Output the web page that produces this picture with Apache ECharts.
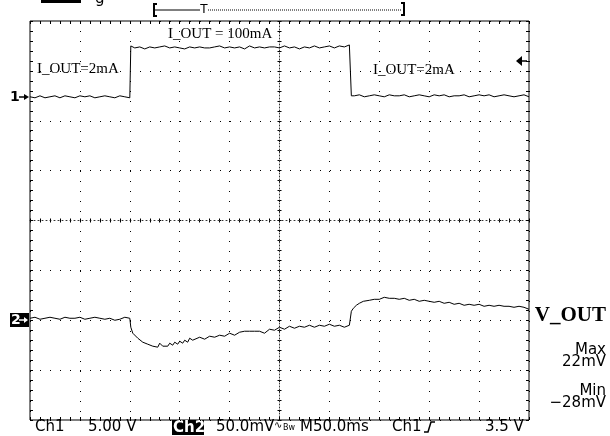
<!DOCTYPE html>
<html>
<head>
<meta charset="utf-8">
<script src="https://cdn.jsdelivr.net/npm/echarts@6/dist/echarts.min.js"></script>
<style>
html, body { margin: 0; padding: 0; background: #fff; }
#scope { width: 610px; height: 436px; }
</style>
</head>
<body>
<div id="scope"></div>
<script>
// time in ms, relative to the centre of the screen (50 ms/div, 10 div)
var ch1Time = [-250,-245,-240,-235,-230,-225,-220,-215,-210,-205,-200,-195,-190,-185,-180,-175,-170,-165,-160,-155,-150,
	-149,
	-145,-140,-135,-130,-125,-120,-115,-110,-105,-100,-95,-90,-85,-80,-75,-70,-65,-60,-55,-50,-45,-40,-35,-30,-25,-20,-15,-10,-5,0,5,10,15,20,25,30,35,40,45,50,55,60,65,70,
	71,72,
	75,80,85,90,95,100,105,110,115,120,125,130,135,140,145,150,155,160,165,170,175,180,185,190,195,200,205,210,215,220,225,230,235,240,245,250];
// Ch1 (5.00 V/div)
var ch1Volts = [0.0,-0.1,0.1,-0.1,0.0,0.1,-0.1,0.1,0.0,-0.1,0.1,0.0,0.1,-0.1,0.0,0.1,0.0,-0.1,0.1,0.0,-0.1,
	5.1,
	4.9,5.0,4.8,5.0,4.9,5.0,5.1,4.9,5.0,4.9,4.8,5.0,4.9,5.0,4.9,4.9,5.0,5.1,4.9,5.0,4.9,5.0,4.8,5.1,4.9,5.0,4.9,5.0,5.0,4.9,5.1,4.9,5.0,4.8,5.0,4.9,5.1,4.9,5.0,5.1,4.9,5.1,5.0,5.2,
	5.0,0.1,
	0.1,0.2,0.0,0.1,0.2,0.1,0.0,0.2,0.1,0.1,0.2,0.0,0.1,0.2,0.1,0.0,0.2,0.1,0.2,0.0,0.1,0.1,0.2,0.0,0.1,0.2,0.1,0.2,0.0,0.1,0.2,0.1,0.0,0.1,0.2,0.0];

var ch2Time = [-250,-245,-240,-235,-230,-225,-220,-215,-210,-205,-200,-195,-190,-185,-180,-175,-170,-165,-160,-155,-150,
	-149,-147,-145,-142,-140,-137,-135,-132,-130,-127,-125,-122,-120,-117,-115,-112,-110,-107,-105,-102,-100,-97,-95,-92,-90,-87,-85,
	-80,-75,-70,-65,-60,-55,-50,-45,-40,-35,-30,-25,-20,-15,-10,-5,0,5,10,15,20,25,30,35,40,45,50,55,60,65,70,
	71,72,74,77,80,84,
	90,95,100,105,110,115,120,125,130,135,140,145,150,155,160,165,170,175,180,185,190,195,200,205,210,215,220,225,230,235,240,245,250];
// Ch2 V_OUT (50.0 mV/div)
var ch2mV = [1,2,0,1,2,1,0,2,1,1,2,0,1,2,1,0,1,-1,0,2,1,
	-8,-14,-16,-19,-21,-23,-21,-25,-24,-27,-25,-28,-24,-27,-25,-27,-24,-26,-23,-25,-22,-24,-21,-23,-19,-21,-20,
	-18,-20,-17,-18,-16,-17,-14,-16,-13,-12,-12,-12,-12,-14,-10,-11,-8,-10,-7,-9,-7,-8,-6,-8,-6,-7,-5,-7,-6,-8,-6,
	-4,8,11,14,16,18,
	19,20,20,22,21,21,20,21,19,20,18,19,18,17,18,16,17,15,16,14,15,14,15,13,14,13,14,13,13,12,13,12,10];

var ch1VoltsPerDiv = 5, ch2mVPerDiv = 50;
var ch1Ground = 2.48, ch2Ground = -1.98; // ground markers, in divisions from centre

function trace(times, values, perDiv, ground) {
	var out = [];
	for (var i = 0; i < times.length && i < values.length; i++) {
		out.push([times[i], ground + values[i] / perDiv]);
	}
	return out;
}

var myChart = echarts.init(document.getElementById('scope'));

var black = '#000';
function xAx(pos, center, withSplit) {
	return {
		type: 'value', min: -250, max: 250, interval: 50, position: pos,
		axisLine: { show: center && pos === 'bottom', onZero: center, onZeroAxisIndex: 0,
			lineStyle: { color: '#333', width: 1, type: [1, 3] } },
		axisTick: { show: true, inside: true, length: center ? 2 : 3, lineStyle: { color: black } },
		minorTick: { show: true, splitNumber: 5, length: center ? 2 : 3, lineStyle: { color: black } },
		axisLabel: { show: false },
		splitLine: { show: withSplit, lineStyle: { color: black, width: 1, type: [1, 9] } }
	};
}
function yAx(pos, center, withSplit) {
	return {
		type: 'value', min: -4, max: 4, interval: 1, position: pos,
		axisLine: { show: center && pos === 'left', onZero: center, onZeroAxisIndex: 0,
			lineStyle: { color: '#333', width: 1, type: [1, 2] } },
		axisTick: { show: true, inside: true, length: center ? 2 : 3, lineStyle: { color: black } },
		minorTick: { show: true, splitNumber: 5, length: center ? 2 : 3, lineStyle: { color: black } },
		axisLabel: { show: false },
		splitLine: { show: withSplit, lineStyle: { color: black, width: 1, type: [1, 9] } }
	};
}

var serif = '15px "Liberation Serif"';
var sans = '15px "DejaVu Sans"';

option = {
	animation: false,
	backgroundColor: '#fff',
	grid: { left: 30, top: 21, width: 499, height: 399, show: true, borderColor: black, borderWidth: 1, backgroundColor: '#fff' },
	xAxis: [xAx('bottom', false, true), xAx('top', false, false), xAx('bottom', true, false), xAx('top', true, false)],
	yAxis: [yAx('left', false, true), yAx('right', false, false), yAx('left', true, false), yAx('right', true, false)],
	series: [{
		name: 'Ch1', type: 'line', xAxisIndex: 0, yAxisIndex: 0,
		data: trace(ch1Time, ch1Volts, ch1VoltsPerDiv, ch1Ground),
		symbol: 'none', lineStyle: { color: black, width: 1 }, silent: true
	}, {
		name: 'Ch2', type: 'line', xAxisIndex: 0, yAxisIndex: 0,
		data: trace(ch2Time, ch2mV, ch2mVPerDiv, ch2Ground),
		symbol: 'none', lineStyle: { color: black, width: 1 }, silent: true
	}],
	graphic: [
		// header remnants
		{ type: 'rect', shape: { x: 41, y: 0, width: 40, height: 3 }, style: { fill: black } },
		{ type: 'text', x: 95, y: -8, style: { text: 'g', font: sans, fill: black } },
		// record bracket with trigger position
		{ type: 'polyline', shape: { points: [[157, 4], [154, 4], [154, 16], [157, 16]] }, style: { stroke: black, lineWidth: 2, fill: null } },
		{ type: 'line', shape: { x1: 155, y1: 10, x2: 200, y2: 10 }, style: { stroke: black, lineWidth: 1 } },
		{ type: 'text', x: 204, y: 4, style: { text: 'T', font: '12px "DejaVu Sans"', fill: black, align: 'center' } },
		{ type: 'line', shape: { x1: 208, y1: 10, x2: 401, y2: 10 }, style: { stroke: black, lineWidth: 1, lineDash: [1, 1] } },
		{ type: 'polyline', shape: { points: [[401, 3], [404, 3], [404, 15], [401, 15]] }, style: { stroke: black, lineWidth: 2, fill: null } },
		// channel ground markers
		{ type: 'text', x: 10, y: 97, style: { text: '1', font: 'bold 14px "DejaVu Sans"', fill: black, verticalAlign: 'middle' } },
		{ type: 'line', shape: { x1: 19, y1: 97, x2: 27, y2: 97 }, style: { stroke: black, lineWidth: 1.5 } },
		{ type: 'polygon', shape: { points: [[29, 97], [24, 94], [24, 100]] }, style: { fill: black } },
		{ type: 'rect', shape: { x: 10, y: 313, width: 19, height: 14 }, style: { fill: black } },
		{ type: 'text', x: 11, y: 320, style: { text: '2', font: 'bold 14px "DejaVu Sans"', fill: '#fff', verticalAlign: 'middle' } },
		{ type: 'line', shape: { x1: 19, y1: 320, x2: 25, y2: 320 }, style: { stroke: '#fff', lineWidth: 1.5 } },
		{ type: 'polygon', shape: { points: [[28, 320], [24, 317], [24, 323]] }, style: { fill: '#fff' } },
		// trigger level marker
		{ type: 'polygon', shape: { points: [[516, 61], [522, 56], [522, 66]] }, style: { fill: black } },
		{ type: 'line', shape: { x1: 521, y1: 61, x2: 527, y2: 61 }, style: { stroke: black, lineWidth: 1.5 } },
		// annotations
		{ type: 'text', x: 37, y: 69, style: { text: 'I_OUT=2mA', font: serif, fill: black, verticalAlign: 'middle' } },
		{ type: 'text', x: 168, y: 34, style: { text: 'I_OUT = 100mA', font: serif, fill: black, verticalAlign: 'middle' } },
		{ type: 'text', x: 373, y: 70, style: { text: 'I_OUT=2mA', font: serif, fill: black, verticalAlign: 'middle' } },
		{ type: 'text', x: 606, y: 316, style: { text: 'V_OUT', font: 'bold 21px "Liberation Serif"', fill: black, align: 'right', verticalAlign: 'middle' } },
		{ type: 'text', x: 606, y: 350, style: { text: 'Max', font: sans, fill: black, align: 'right', verticalAlign: 'middle' } },
		{ type: 'text', x: 606, y: 362, style: { text: '22mV', font: sans, fill: black, align: 'right', verticalAlign: 'middle' } },
		{ type: 'text', x: 606, y: 391, style: { text: 'Min', font: sans, fill: black, align: 'right', verticalAlign: 'middle' } },
		{ type: 'text', x: 606, y: 403, style: { text: '\u221228mV', font: sans, fill: black, align: 'right', verticalAlign: 'middle' } },
		// readout line
		{ type: 'text', x: 35, y: 427, style: { text: 'Ch1', font: sans, fill: black, verticalAlign: 'middle' } },
		{ type: 'text', x: 88, y: 427, style: { text: '5.00 V', font: sans, fill: black, verticalAlign: 'middle' } },
		{ type: 'rect', shape: { x: 172, y: 420, width: 32, height: 15 }, style: { fill: black } },
		{ type: 'text', x: 173, y: 428, style: { text: 'Ch2', font: 'bold 15px "DejaVu Sans"', fill: '#fff', verticalAlign: 'middle' } },
		{ type: 'text', x: 216, y: 427, style: { text: '50.0mV', font: sans, fill: black, verticalAlign: 'middle' } },
		{ type: 'text', x: 274, y: 425, style: { text: '\u223F', font: '10px "DejaVu Sans"', fill: black, verticalAlign: 'middle' } },
		{ type: 'text', x: 283, y: 428, style: { text: 'Bw', font: '8px "DejaVu Sans"', fill: black, verticalAlign: 'middle' } },
		{ type: 'text', x: 300, y: 427, style: { text: 'M50.0ms', font: sans, fill: black, verticalAlign: 'middle' } },
		{ type: 'text', x: 392, y: 427, style: { text: 'Ch1', font: sans, fill: black, verticalAlign: 'middle' } },
		{ type: 'polyline', shape: { points: [[424, 432], [428, 432], [431, 422], [435, 422]] }, style: { stroke: black, lineWidth: 1.5, fill: null } },
		{ type: 'text', x: 485, y: 427, style: { text: '3.5 V', font: sans, fill: black, verticalAlign: 'middle' } }
	]
};

myChart.setOption(option, true);
</script>
</body>
</html>
